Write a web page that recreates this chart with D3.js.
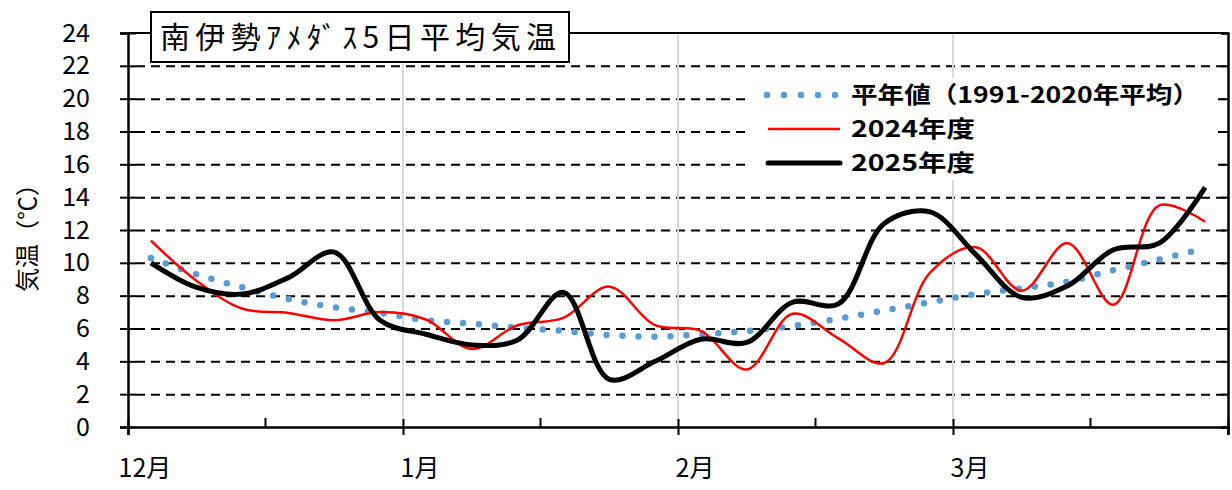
<!DOCTYPE html>
<html>
<head>
<meta charset="utf-8">
<script src="https://cdn.jsdelivr.net/npm/d3@7"></script>
<style>
  body { margin: 0; background: #fff; }
  text { font-family: "Noto Sans CJK JP", "Noto Sans", sans-serif; }
</style>
</head>
<body>
<div id="wrapper"></div>
<script>
// 5日平均（半旬）: 12月〜3月の24半旬
const monthLabels = ["12月", "1月", "2月", "3月"];
const monthTicks = [0, 6, 12, 18, 24];
const midTicks = [3, 9, 15, 21];
const yTicks = [0, 2, 4, 6, 8, 10, 12, 14, 16, 18, 20, 22, 24];

const normal = [10.3, 9.3, 8.5, 7.8, 7.3, 6.95, 6.5, 6.3, 6.05, 5.85, 5.6, 5.5,
                5.65, 5.85, 6.15, 6.6, 7.1, 7.6, 8.1, 8.45, 8.85, 9.55, 10.2, 10.9];
const fy2024 = [11.35, 8.9, 7.2, 6.95, 6.5, 7.0, 6.55, 4.75, 6.2, 6.65, 8.55, 6.2,
                5.85, 3.5, 6.9, 5.4, 3.9, 9.4, 10.95, 8.3, 11.2, 7.45, 13.5, 12.5];
const fy2025 = [10.0, 8.5, 8.1, 9.1, 10.65, 6.5, 5.65, 5.0, 5.3, 8.2, 2.9, 4.0,
                5.35, 5.15, 7.6, 7.5, 12.4, 13.1, 10.5, 7.9, 8.6, 10.8, 11.2, 14.6];

const seriesNames = ["平年値（1991-2020年平均）", "2024年度", "2025年度"];

const dim = { width: 1232, height: 490, left: 128, right: 1228, top: 33, bottom: 427 };

const svg = d3.select("#wrapper").append("svg")
    .attr("width", dim.width)
    .attr("height", dim.height);

const x = d3.scaleLinear().domain([0, 24]).range([dim.left, dim.right]);
const y = d3.scaleLinear().domain([0, 24]).range([dim.bottom, dim.top]);

// dashed horizontal grid
svg.append("g")
    .attr("transform", `translate(${dim.left},0)`)
    .call(d3.axisLeft(y).tickValues(yTicks.filter(d => d > 0 && d < 24))
        .tickSize(-(dim.right - dim.left)).tickFormat(""))
    .call(g => g.select(".domain").remove())
    .call(g => g.selectAll(".tick line")
        .attr("stroke", "#000").attr("stroke-width", 2)
        .attr("stroke-dasharray", "9 6").attr("x1", 8));

// light vertical grid at month starts
svg.append("g")
    .selectAll("line")
    .data(monthTicks.slice(1, 4))
    .join("line")
    .attr("x1", d => x(d)).attr("x2", d => x(d))
    .attr("y1", dim.top).attr("y2", dim.bottom)
    .attr("stroke", "#d9d9d9").attr("stroke-width", 2);

const line = d3.line()
    .x((d, i) => x(i + 0.5))
    .y(d => y(d))
    .curve(d3.curveCatmullRom.alpha(0.5));

svg.append("path")
    .attr("d", line(normal))
    .attr("fill", "none")
    .attr("stroke", "#5b9bd5")
    .attr("stroke-width", 6.5)
    .attr("stroke-linecap", "round")
    .attr("stroke-dasharray", "0 16");

svg.append("path")
    .attr("d", line(fy2024))
    .attr("fill", "none")
    .attr("stroke", "#ff0000")
    .attr("stroke-width", 2.5);

svg.append("path")
    .attr("d", line(fy2025))
    .attr("fill", "none")
    .attr("stroke", "#000")
    .attr("stroke-width", 5)
    .attr("stroke-linejoin", "round");

// frame: top and right
svg.append("line")
    .attr("x1", dim.left).attr("x2", dim.right)
    .attr("y1", y(24)).attr("y2", y(24))
    .attr("stroke", "#000").attr("stroke-width", 2);

const rightAxis = svg.append("g")
    .attr("transform", `translate(${dim.right},0)`)
    .call(d3.axisLeft(y).tickValues(yTicks).tickSize(7).tickFormat(""));
rightAxis.select(".domain").attr("stroke-width", 2.5);
rightAxis.selectAll(".tick line").attr("stroke-width", 2);

// left axis
const leftAxis = svg.append("g")
    .attr("transform", `translate(${dim.left},0)`)
    .call(d3.axisLeft(y).tickValues(yTicks).tickSize(8).tickPadding(30));
leftAxis.select(".domain").attr("stroke-width", 2.5);
leftAxis.selectAll(".tick line").attr("x1", 8).attr("stroke-width", 2);
leftAxis.selectAll(".tick text")
    .attr("font-size", 25).attr("fill", "#000")
    .attr("font-family", "'Noto Sans CJK JP', sans-serif");

// bottom axis
const bottomAxis = svg.append("g")
    .attr("transform", `translate(0,${dim.bottom})`)
    .call(d3.axisBottom(x).tickValues(monthTicks).tickSize(8).tickFormat(""));
bottomAxis.select(".domain").attr("stroke-width", 2.5);
bottomAxis.selectAll(".tick line").attr("y1", -8).attr("stroke-width", 2);

svg.append("g")
    .selectAll("line")
    .data(midTicks)
    .join("line")
    .attr("x1", d => x(d)).attr("x2", d => x(d))
    .attr("y1", dim.bottom - 9).attr("y2", dim.bottom)
    .attr("stroke", "#000").attr("stroke-width", 2);

svg.append("g")
    .selectAll("text")
    .data(monthLabels)
    .join("text")
    .attr("x", (d, i) => x(monthTicks[i]) + 17)
    .attr("y", 477)
    .attr("text-anchor", "middle")
    .attr("font-size", 25)
    .text(d => d);

// y title
svg.append("text")
    .attr("transform", "translate(36,232) rotate(-90)")
    .attr("text-anchor", "middle")
    .attr("font-size", 24)
    .text("気温（℃）");

// legend
const legend = svg.append("g");
legend.append("rect")
    .attr("x", 748).attr("y", 78).attr("width", 470).attr("height", 102)
    .attr("fill", "#fff");
const legendY = [95, 129, 163];
const legendW = [348, 124, 124];
legend.append("line")
    .attr("x1", 767).attr("x2", 836).attr("y1", legendY[0]).attr("y2", legendY[0])
    .attr("stroke", "#5b9bd5").attr("stroke-width", 6.5)
    .attr("stroke-linecap", "round").attr("stroke-dasharray", "0 17");
legend.append("line")
    .attr("x1", 768).attr("x2", 840).attr("y1", legendY[1]).attr("y2", legendY[1])
    .attr("stroke", "#ff0000").attr("stroke-width", 2.5);
legend.append("line")
    .attr("x1", 768).attr("x2", 840).attr("y1", legendY[2]).attr("y2", legendY[2])
    .attr("stroke", "#000").attr("stroke-width", 5).attr("stroke-linecap", "round");
legend.selectAll("text")
    .data(seriesNames)
    .join("text")
    .attr("x", 851)
    .attr("y", (d, i) => legendY[i] + 8)
    .attr("font-size", 23)
    .attr("font-weight", "bold")
    .attr("textLength", (d, i) => legendW[i])
    .attr("lengthAdjust", "spacingAndGlyphs")
    .text(d => d);

// title box
svg.append("rect")
    .attr("x", 151).attr("y", 12).attr("width", 418).attr("height", 50)
    .attr("fill", "#fff").attr("stroke", "#000").attr("stroke-width", 2);
svg.append("text")
    .attr("x", 160).attr("y", 48)
    .attr("font-size", 30)
    .attr("textLength", 396)
    .attr("lengthAdjust", "spacing")
    .text("南伊勢ｱﾒﾀﾞｽ5日平均気温");
</script>
</body>
</html>
